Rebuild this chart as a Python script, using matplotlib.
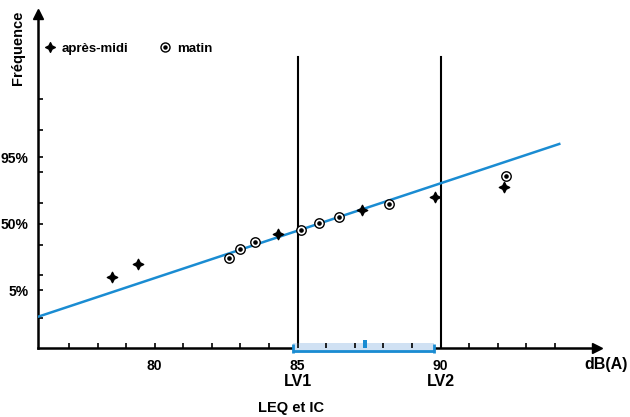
import matplotlib
matplotlib.use('Agg')
import matplotlib.pyplot as plt
from matplotlib.lines import Line2D
from matplotlib.legend_handler import HandlerTuple
from matplotlib.path import Path
from matplotlib.patches import Rectangle
from statistics import NormalDist

plt.rcParams['font.family'] = ['Liberation Sans', 'DejaVu Sans']

# ---- data ----
apm_db = [78.5, 79.4, 84.3, 87.25, 89.8, 92.2]          # après-midi
apm_pct = [9.4, 15.7, 39.6, 63.3, 74.9, 82.1]
mat_db = [82.6, 83.0, 83.5, 85.1, 85.75, 86.45, 88.2, 92.3]  # matin
mat_pct = [19.9, 26.5, 32.2, 43.8, 51.0, 56.9, 68.8, 88.3]
fit_db = [75.9, 94.15]
fit_pct = [1.04, 97.6]
lv_db = [85, 90]
lv_labels = ['LV1', 'LV2']
leq_db = 87.35
ic_db = [84.83, 89.76]
xtick_major = [80, 85, 90]
xtick_labels = ['80', '85', '90']
xtick_minor = list(range(77, 95))
ytick_pct = [1, 5, 10, 30, 50, 70, 90, 95, 99, 99.9]
ytick_labeled = [5, 50, 95]

nd = NormalDist()
def z(p):
    return nd.inv_cdf(p / 100.0)

BLUE = '#1a8cd2'
LIGHT = '#d0e1f3'

fig = plt.figure(figsize=(6.3, 4.17), dpi=100)
ax = fig.add_axes([37.5/630, (417-347.5)/417, 559.5/630, 333.5/417])
ax.set_xlim(75.9, 95.47)
ax.set_ylim(-3.07, 5.2)

for s in ['top', 'right']:
    ax.spines[s].set_visible(False)
for s in ['left', 'bottom']:
    ax.spines[s].set_linewidth(1.8)
    ax.spines[s].set_zorder(2.5)

# arrows
ax.plot(1, 0, marker='>', color='k', markersize=7, transform=ax.transAxes, clip_on=False)
ax.plot(0, 1, marker='^', color='k', markersize=7, transform=ax.transAxes, clip_on=False)

# fit line
ax.plot(fit_db, [z(p) for p in fit_pct], color=BLUE, lw=1.8, zorder=3)

# LV lines
for x in lv_db:
    ax.plot([x, x], [-3.07, 4.14], color='k', lw=1.5, zorder=2)

# markers
star = Path([(0, 1), (0.33, 0.33), (1, 0), (0.33, -0.33), (0, -1), (-0.33, -0.33),
             (-1, 0), (-0.33, 0.33), (0, 1)],
            [Path.MOVETO] + [Path.LINETO]*7 + [Path.CLOSEPOLY])
ax.plot(apm_db, [z(p) for p in apm_pct], ls='none', marker=star, color='k', markersize=7.5, zorder=4)
ax.plot(mat_db, [z(p) for p in mat_pct], ls='none', marker='o', mfc='white', mec='k',
        mew=1.0, markersize=6.8, zorder=4)
ax.plot(mat_db, [z(p) for p in mat_pct], ls='none', marker='o', color='k', markersize=2.3, zorder=5)

# legend
h1 = Line2D([], [], ls='none', marker=star, color='k', markersize=7)
h2a = Line2D([], [], ls='none', marker='o', mfc='white', mec='k', mew=1.0, markersize=6.5)
h2b = Line2D([], [], ls='none', marker='o', color='k', markersize=2.2)
leg = fig.legend([h1, (h2a, h2b)], ['après-midi', 'matin'],
                 handler_map={tuple: HandlerTuple(ndivide=1)},
                 loc='center left', bbox_to_anchor=(44/630, (417-49)/417),
                 ncol=2, frameon=False, borderpad=0, borderaxespad=0,
                 handlelength=0.9, handletextpad=0.45, columnspacing=2.3,
                 prop={'size': 9.5, 'weight': 'bold'})

# LEQ / IC band
xtr = ax.get_xaxis_transform()
ax.add_patch(Rectangle((ic_db[0], -5.2/333.5), ic_db[1]-ic_db[0], 9.4/333.5,
                       transform=xtr, facecolor=LIGHT, edgecolor='none',
                       clip_on=False, zorder=2.7))
ax.plot(ic_db, [-3.2/333.5]*2, transform=xtr, color=BLUE, lw=2, clip_on=False, zorder=2.8,
        solid_capstyle='butt')
for x in ic_db:
    ax.plot([x, x], [-5.2/333.5, 3.5/333.5], transform=xtr, color=BLUE, lw=2,
            clip_on=False, zorder=2.8, solid_capstyle='butt')
ax.add_patch(Rectangle((leq_db-0.07, 0), 0.14, 7.5/333.5, transform=xtr,
                       facecolor=BLUE, edgecolor='none', clip_on=False, zorder=2.8))

# ticks
ax.xaxis.set_zorder(3)
ax.set_xticks(xtick_major)
ax.set_xticklabels(xtick_labels, fontsize=10, fontweight='bold')
ax.set_xticks(xtick_minor, minor=True)
ax.tick_params(axis='x', which='both', direction='in', length=3.5, width=1.2, pad=8)
ax.set_yticks([z(p) for p in ytick_pct])
ax.set_yticklabels([f'{p:g}%' if p in ytick_labeled else '' for p in ytick_pct],
                   fontsize=10, fontweight='bold')
ax.tick_params(axis='y', which='both', direction='in', length=3.5, width=1.2, pad=6.5)

for x, lab in zip(lv_db, lv_labels):
    ax.text(x, -33.5/333.5, lab, transform=xtr, ha='center', va='center',
            fontsize=11.5, fontweight='bold')

fig.text(606/630, (417-365)/417, 'dB(A)', ha='center', va='center', fontsize=11.5, fontweight='bold')
fig.text(291/630, (417-408)/417, 'LEQ et IC', ha='center', va='center', fontsize=10.5, fontweight='bold')
fig.text(18/630, (417-48)/417, 'Fréquence', ha='center', va='center', rotation=90,
         fontsize=10.5, fontweight='bold')

fig.savefig('out.png', dpi=100)
